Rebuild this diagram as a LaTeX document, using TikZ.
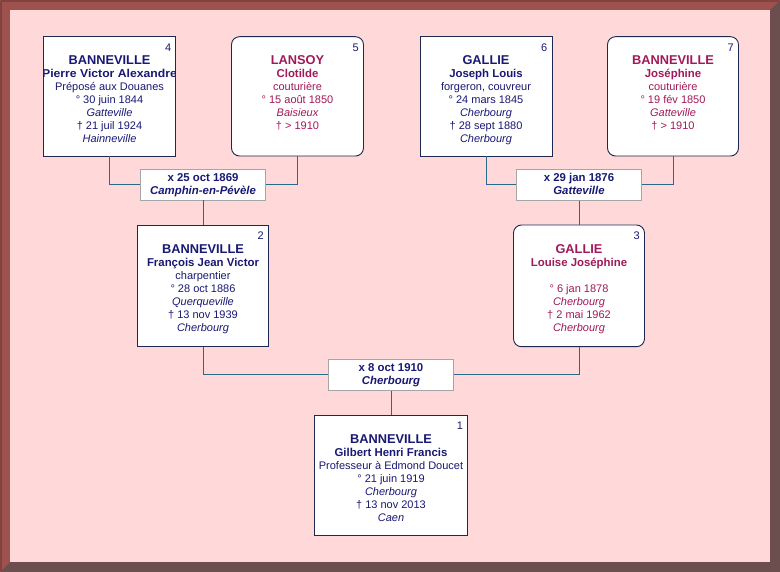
\documentclass[tikz,border=0pt]{standalone}
\usepackage{fontspec}
\setmainfont{Liberation Sans}
\usepackage{graphicx}
\usetikzlibrary{calc}
\definecolor{malec}{RGB}{25,25,115}
\definecolor{femc}{RGB}{160,25,90}
\definecolor{boxc}{RGB}{30,40,80}
\definecolor{linkc}{RGB}{40,105,140}
\definecolor{mgrey}{RGB}{165,165,165}
\definecolor{bgpink}{RGB}{255,217,217}
\definecolor{framelight}{RGB}{158,82,77}
\definecolor{framedark}{RGB}{108,78,78}
\definecolor{frameedge}{RGB}{130,66,62}
\tikzset{
  pbox/.style={draw=boxc, fill=white, line width=0.9pt, inner sep=0},
  rbox/.style={pbox, rounded corners=8pt},
  mbox/.style={draw=mgrey, fill=white, line width=0.9pt, inner sep=0, minimum width=125pt, minimum height=31pt},
  link/.style={draw=linkc, line width=0.9pt},
  sur/.style={anchor=base, inner sep=0, font=\fontsize{12.8}{14}\selectfont\bfseries},
  giv/.style={anchor=base, inner sep=0, font=\fontsize{11.4}{13}\selectfont\bfseries},
  reg/.style={anchor=base, inner sep=0, font=\fontsize{11}{13}\selectfont},
  ita/.style={anchor=base, inner sep=0, font=\fontsize{11}{13}\selectfont\itshape},
  mdate/.style={anchor=base, inner sep=0, text=malec, font=\fontsize{11.4}{13}\selectfont\bfseries},
  mplace/.style={anchor=base, inner sep=0, text=malec, font=\fontsize{11.4}{13}\selectfont\bfseries\itshape},
  num/.style={anchor=base east, inner sep=0, font=\fontsize{11}{13}\selectfont},
  male/.style={text=malec},
  female/.style={text=femc}
}
\begin{document}
\begin{tikzpicture}[x=1pt,y=-1pt]
\useasboundingbox (0,0) rectangle (780,572);
% frame
\fill[framedark] (0,0) rectangle (780,572);
\fill[framelight] (0,0) -- (780,0) -- (770,10) -- (10,10) -- (10,562) -- (0,572) -- cycle;
\draw[frameedge, line width=2pt] (1,1) -- (779,1);
\draw[frameedge, line width=2pt] (1,1) -- (1,571);
\fill[bgpink] (10,10) rectangle (770,562);

% boxes
\node[pbox, minimum width=132pt, minimum height=119.3pt] (p4) at (109.5,96.35) {};
\node[rbox, minimum width=132pt, minimum height=119.3pt] (p5) at (297.5,96.35) {};
\node[pbox, minimum width=132pt, minimum height=119.3pt] (p6) at (486,96.35) {};
\node[rbox, minimum width=131pt, minimum height=119.3pt] (p7) at (673,96.35) {};
\node[mbox] (m1) at (203,184.5) {};
\node[mbox] (m2) at (579,184.6) {};
\node[pbox, minimum width=131pt, minimum height=121.7pt] (p2) at (203,285.85) {};
\node[rbox, minimum width=131pt, minimum height=121.7pt] (p3) at (579,285.85) {};
\node[mbox] (m3) at (391,374.6) {};
\node[pbox, minimum width=153.4pt, minimum height=120pt] (p1) at (391,475) {};

% connectors
\draw[link] (p4.south) |- (m1.west);
\draw[link] (p5.south) |- (m1.east);
\draw[link] (m1.south) -- (p2.north);
\draw[link] (p6.south) |- (m2.west);
\draw[link] (p7.south) |- (m2.east);
\draw[link] (m2.south) -- (p3.north);
\draw[link] (p2.south) |- (m3.west);
\draw[link] (p3.south) |- (m3.east);
\draw[link] (m3.south) -- (p1.north);

% person 4
\begin{scope}
\clip ($(p4.south west)+(0.5,-0.5)$) rectangle ($(p4.north east)+(-0.5,0.5)$);
\node[num,male] (n4) at ($(p4.north east)+(-4.5,15)$) {4};
\node[sur,male] (p4a) at ($(p4.north)+(0,28)$) {BANNEVILLE};
\node[giv,male] (p4b) at ($(p4.north)+(0,41.5)$) {\scalebox{1.07}[1]{Pierre Victor Alexandre}};
\node[reg,male] (p4c) at ($(p4.north)+(0,54.5)$) {Préposé aux Douanes};
\node[reg,male] (p4d) at ($(p4.north)+(0,67.5)$) {° 30 juin 1844};
\node[ita,male] (p4e) at ($(p4.north)+(0,80.5)$) {Gatteville};
\node[reg,male] (p4f) at ($(p4.north)+(0,93.5)$) {† 21 juil 1924};
\node[ita,male] (p4g) at ($(p4.north)+(0,106.5)$) {Hainneville};
\end{scope}

% person 5
\node[num,male] (n5) at ($(p5.north east)+(-5,15)$) {5};
\node[sur,female] (p5a) at ($(p5.north)+(0,28)$) {LANSOY};
\node[giv,female] (p5b) at ($(p5.north)+(0,41.5)$) {Clotilde};
\node[reg,female] (p5c) at ($(p5.north)+(0,54.5)$) {couturière};
\node[reg,female] (p5d) at ($(p5.north)+(0,67.5)$) {° 15 août 1850};
\node[ita,female] (p5e) at ($(p5.north)+(0,80.5)$) {Baisieux};
\node[reg,female] (p5f) at ($(p5.north)+(0,93.5)$) {† > 1910};

% person 6
\node[num,male] (n6) at ($(p6.north east)+(-5,15)$) {6};
\node[sur,male] (p6a) at ($(p6.north)+(0,28)$) {GALLIE};
\node[giv,male] (p6b) at ($(p6.north)+(0,41.5)$) {Joseph Louis};
\node[reg,male] (p6c) at ($(p6.north)+(0,54.5)$) {forgeron, couvreur};
\node[reg,male] (p6d) at ($(p6.north)+(0,67.5)$) {° 24 mars 1845};
\node[ita,male] (p6e) at ($(p6.north)+(0,80.5)$) {Cherbourg};
\node[reg,male] (p6f) at ($(p6.north)+(0,93.5)$) {† 28 sept 1880};
\node[ita,male] (p6g) at ($(p6.north)+(0,106.5)$) {Cherbourg};

% person 7
\node[num,male] (n7) at ($(p7.north east)+(-5,15)$) {7};
\node[sur,female] (p7a) at ($(p7.north)+(0,28)$) {BANNEVILLE};
\node[giv,female] (p7b) at ($(p7.north)+(0,41.5)$) {Joséphine};
\node[reg,female] (p7c) at ($(p7.north)+(0,54.5)$) {couturière};
\node[reg,female] (p7d) at ($(p7.north)+(0,67.5)$) {° 19 fév 1850};
\node[ita,female] (p7e) at ($(p7.north)+(0,80.5)$) {Gatteville};
\node[reg,female] (p7f) at ($(p7.north)+(0,93.5)$) {† > 1910};

% marriages
\node[mdate] (m1a) at ($(m1.north)+(0,13)$) {x 25 oct 1869};
\node[mplace] (m1b) at ($(m1.north)+(0,26)$) {Camphin-en-Pévèle};
\node[mdate] (m2a) at ($(m2.north)+(0,13)$) {x 29 jan 1876};
\node[mplace] (m2b) at ($(m2.north)+(0,26)$) {Gatteville};
\node[mdate] (m3a) at ($(m3.north)+(0,13)$) {x 8 oct 1910};
\node[mplace] (m3b) at ($(m3.north)+(0,26)$) {Cherbourg};

% person 2
\node[num,male] (n2) at ($(p2.north east)+(-5,15)$) {2};
\node[sur,male] (p2a) at ($(p2.north)+(0,28.5)$) {BANNEVILLE};
\node[giv,male] (p2b) at ($(p2.north)+(0,42)$) {François Jean Victor};
\node[reg,male] (p2c) at ($(p2.north)+(0,55)$) {charpentier};
\node[reg,male] (p2d) at ($(p2.north)+(0,68)$) {° 28 oct 1886};
\node[ita,male] (p2e) at ($(p2.north)+(0,81)$) {Querqueville};
\node[reg,male] (p2f) at ($(p2.north)+(0,94)$) {† 13 nov 1939};
\node[ita,male] (p2g) at ($(p2.north)+(0,107)$) {Cherbourg};

% person 3
\node[num,male] (n3) at ($(p3.north east)+(-5,15)$) {3};
\node[sur,female] (p3a) at ($(p3.north)+(0,28.5)$) {GALLIE};
\node[giv,female] (p3b) at ($(p3.north)+(0,42)$) {Louise Joséphine};
\node[reg,female] (p3d) at ($(p3.north)+(0,68)$) {° 6 jan 1878};
\node[ita,female] (p3e) at ($(p3.north)+(0,81)$) {Cherbourg};
\node[reg,female] (p3f) at ($(p3.north)+(0,94)$) {† 2 mai 1962};
\node[ita,female] (p3g) at ($(p3.north)+(0,107)$) {Cherbourg};

% person 1
\node[num,male] (n1) at ($(p1.north east)+(-5,15)$) {1};
\node[sur,male] (p1a) at ($(p1.north)+(0,28.5)$) {BANNEVILLE};
\node[giv,male] (p1b) at ($(p1.north)+(0,42)$) {Gilbert Henri Francis};
\node[reg,male] (p1c) at ($(p1.north)+(0,55)$) {Professeur à Edmond Doucet};
\node[reg,male] (p1d) at ($(p1.north)+(0,68)$) {° 21 juin 1919};
\node[ita,male] (p1e) at ($(p1.north)+(0,81)$) {Cherbourg};
\node[reg,male] (p1f) at ($(p1.north)+(0,94)$) {† 13 nov 2013};
\node[ita,male] (p1g) at ($(p1.north)+(0,107)$) {Caen};
\end{tikzpicture}
\end{document}
